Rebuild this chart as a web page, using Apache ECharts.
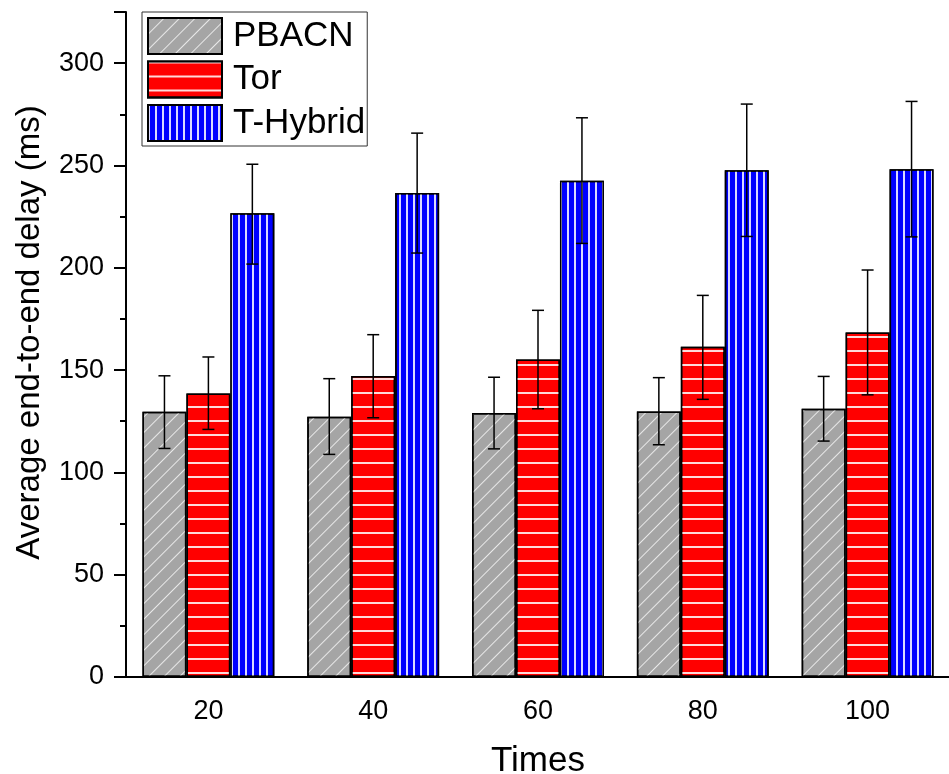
<!DOCTYPE html>
<html>
<head>
<meta charset="utf-8">
<script src="https://cdn.jsdelivr.net/npm/echarts@6/dist/echarts.min.js"></script>
<style>
  html, body { margin: 0; padding: 0; background: #fff; }
  #chart { width: 949px; height: 774px; }
</style>
</head>
<body>
<div id="chart"></div>
<script>
var categories = ['20', '40', '60', '80', '100'];
var pbacn = [129.6, 127.2, 129.0, 129.8, 131.1];
var pbacnLow = [111.7, 108.8, 111.5, 113.5, 115.3];
var pbacnHigh = [147.2, 145.8, 146.5, 146.3, 146.9];
var tor = [138.6, 147.1, 155.2, 161.4, 168.4];
var torLow = [121.0, 126.7, 131.1, 135.7, 137.9];
var torHigh = [156.4, 167.3, 179.2, 186.5, 198.9];
var hybrid = [226.7, 236.5, 242.5, 247.7, 248.2];
var hybridLow = [201.8, 207.2, 211.9, 215.3, 215.1];
var hybridHigh = [250.6, 265.8, 273.3, 280.0, 281.3];

var font = 'Liberation Sans, Arial, sans-serif';

function errData(lo, hi) {
  return lo.map(function (v, i) { return [i, v, hi[i]]; });
}

// error bars drawn next to the bar of series k (0..2) inside each category
function errSeries(k, lo, hi) {
  return {
    type: 'custom',
    z: 10,
    silent: true,
    encode: { x: 0, y: [1, 2] },
    data: errData(lo, hi),
    renderItem: function (params, api) {
      var i = api.value(0);
      var p1 = api.coord([i, api.value(1)]);
      var p2 = api.coord([i, api.value(2)]);
      var band = api.size([1, 0])[0];
      var bw = band * 0.8 / 3;
      var x = p1[0] + (k - 1) * bw;
      var cap = 6;
      var style = { stroke: '#000', lineWidth: 1.5 };
      return {
        type: 'group',
        children: [
          { type: 'line', shape: { x1: x, y1: p1[1], x2: x, y2: p2[1] }, style: style },
          { type: 'line', shape: { x1: x - cap, y1: p1[1], x2: x + cap, y2: p1[1] }, style: style },
          { type: 'line', shape: { x1: x - cap, y1: p2[1], x2: x + cap, y2: p2[1] }, style: style }
        ]
      };
    }
  };
}

function barSeries(name, data, color, decal) {
  return {
    name: name,
    type: 'bar',
    data: data,
    barGap: '0%',
    barCategoryGap: '20%',
    itemStyle: {
      color: color,
      borderColor: '#000',
      borderWidth: 1.5,
      decal: decal
    }
  };
}

var chart = echarts.init(document.getElementById('chart'));
chart.setOption({
  animation: false,
  backgroundColor: '#fff',
  grid: { left: 126, right: -1, top: 12, bottom: 97, outerBoundsMode: 'none', containLabel: false },
  legend: {
    left: 142,
    top: 12,
    orient: 'vertical',
    data: ['PBACN', 'Tor', 'T-Hybrid'],
    icon: 'rect',
    itemWidth: 74,
    itemHeight: 36,
    itemGap: 5.5,
    padding: [5, 2, 4, 5],
    borderColor: '#333',
    borderWidth: 1,
    textStyle: { fontFamily: font, fontSize: 35, lineHeight: 36, color: '#000', padding: [0, 0, 0, 6] }
  },
  xAxis: [{
    type: 'category',
    data: categories,
    name: 'Times',
    nameLocation: 'middle',
    nameGap: 67,
    nameTextStyle: { fontFamily: font, fontSize: 35, color: '#000' },
    axisLine: { lineStyle: { color: '#000', width: 2 } },
    axisTick: { alignWithLabel: true, length: 12, lineStyle: { color: '#000', width: 2 } },
    axisLabel: { fontFamily: font, fontSize: 27, color: '#000', margin: 21 }
  }, {
    type: 'category',
    data: categories,
    position: 'bottom',
    axisLine: { show: false },
    axisTick: { length: 6, lineStyle: { color: '#000', width: 2 } },
    axisLabel: { show: false }
  }],
  yAxis: {
    type: 'value',
    min: 0,
    max: 325,
    interval: 50,
    name: 'Average end-to-end delay (ms)',
    nameLocation: 'middle',
    nameGap: 80,
    nameTextStyle: { fontFamily: font, fontSize: 33, color: '#000', padding: [0, 0, 0, 24] },
    axisLine: { show: true, lineStyle: { color: '#000', width: 2 } },
    axisTick: { show: true, length: 12, lineStyle: { color: '#000', width: 2 } },
    minorTick: { show: true, splitNumber: 2, length: 6, lineStyle: { color: '#000', width: 2 } },
    splitLine: { show: false },
    axisLabel: { fontFamily: font, fontSize: 27, color: '#000', margin: 22, showMaxLabel: false }
  },
  series: [
    barSeries('PBACN', pbacn, '#a5a5a5', {
      symbol: 'rect', color: 'rgba(255,255,255,0.75)',
      dashArrayX: [1, 0], dashArrayY: [1, 9.5], rotation: -Math.PI / 4
    }),
    barSeries('Tor', tor, '#ff0000', {
      symbol: 'rect', color: 'rgba(255,255,255,0.85)',
      dashArrayX: [1, 0], dashArrayY: [1.5, 11.7]
    }),
    barSeries('T-Hybrid', hybrid, '#0000ff', {
      symbol: 'rect', color: 'rgba(255,255,255,0.85)',
      dashArrayX: [1.5, 4.8], dashArrayY: [1, 0]
    }),
    errSeries(0, pbacnLow, pbacnHigh),
    errSeries(1, torLow, torHigh),
    errSeries(2, hybridLow, hybridHigh)
  ]
});
</script>
</body>
</html>
